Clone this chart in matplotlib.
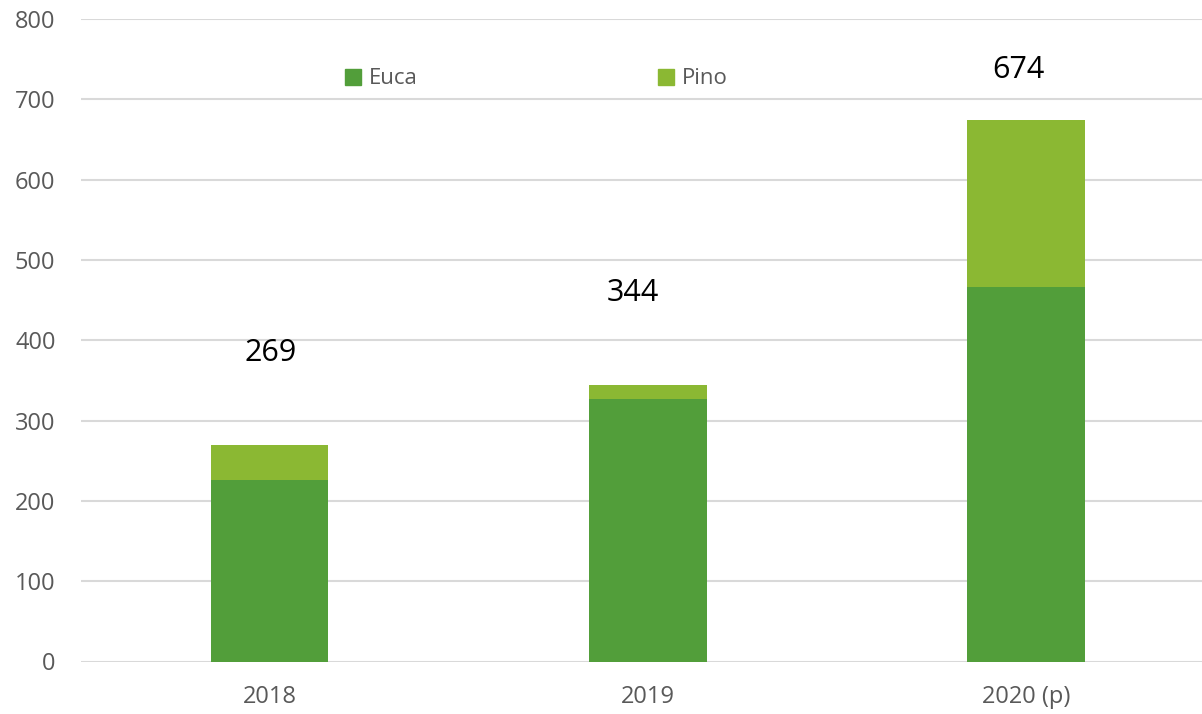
import matplotlib
matplotlib.use("Agg")
import matplotlib.pyplot as plt
from matplotlib.patches import Patch

categories = ["2018", "2019", "2020 (p)"]
euca = [226, 327, 466]
pino = [43, 17, 208]
totals = [269, 344, 674]
series_names = ["Euca", "Pino"]

# layout for total labels (data coords)
label_dx = [0.003, -0.04, -0.02]
label_y = [384, 459, 737]

plt.rcParams['font.family'] = ['Open Sans', 'DejaVu Sans']

fig = plt.figure(figsize=(12.02, 7.14), dpi=100)
ax = fig.add_axes([80.5/1202, 1-661.5/714, 1-80.5/1202, (661.5-19)/714])

c_euca = "#529E3A"
c_pino = "#8BB833"
x = list(range(len(categories)))
w = 0.311
ax.bar(x, euca, w, color=c_euca, zorder=3)
ax.bar(x, pino, w, bottom=euca, color=c_pino, zorder=3)

for i, t in enumerate(totals):
    ax.text(i + label_dx[i], label_y[i], str(t), ha='center', va='center',
            fontsize=22, color='black')

ax.set_xlim(-0.5, (1202-80.5)/378.25 - 0.5)
ax.set_ylim(0, 800)
ax.set_yticks(range(0, 801, 100))
ax.set_xticks(x)
ax.set_xticklabels(categories)
ax.grid(axis='y', color='#D9D9D9', linewidth=1.5, zorder=0)
for s in ax.spines.values():
    s.set_visible(False)
ax.tick_params(axis='both', length=0, labelsize=17, colors='#595959')
ax.tick_params(axis='x', pad=17)
ax.tick_params(axis='y', pad=18)

handles = [Patch(color=c_euca), Patch(color=c_pino)]
leg = fig.legend(handles, series_names, loc='center left',
                 bbox_to_anchor=(345/1202, 1-79/714), ncol=2, frameon=False,
                 fontsize=16, handlelength=0.72, handleheight=0.72,
                 handletextpad=0.35, columnspacing=10.8, borderpad=0,
                 borderaxespad=0)
for t in leg.get_texts():
    t.set_color('#595959')

fig.savefig("out.png", dpi=100)
